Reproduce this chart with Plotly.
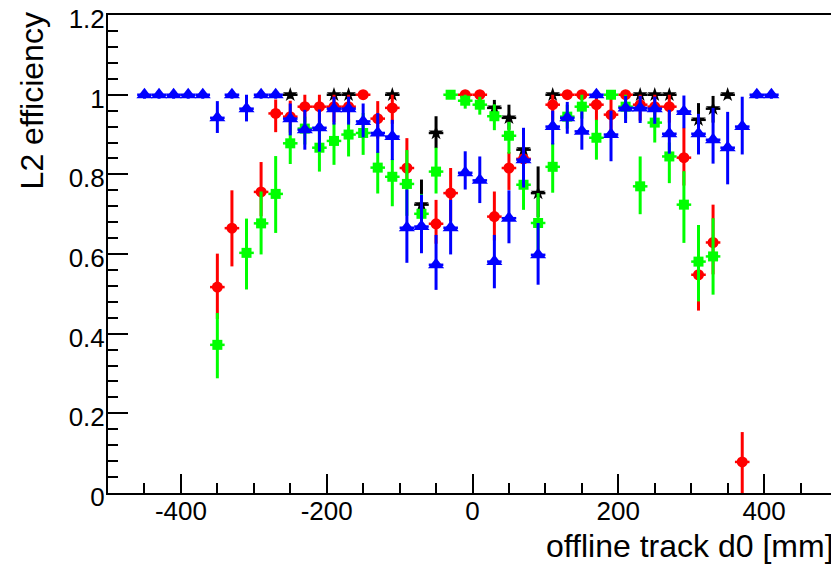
import plotly.graph_objects as go

# ---------------- data ----------------
x_blue = [-450, -430, -410, -390, -370, -350, -330, -310, -290, -270, -250, -230, -210, -190, -170,
          -150, -130, -110, -90, -70, -50, -30, -10, 10, 30, 50, 70, 90, 110, 130, 150, 170, 190,
          210, 230, 250, 270, 290, 310, 330, 350, 370, 390, 410]
y_blue = [1, 1, 1, 1, 1, 0.942, 1, 0.965, 1, 1, 0.94, 0.912, 0.917, 0.965, 0.965,
          0.933, 0.904, 0.895, 0.666, 0.669, 0.573, 0.666, 0.804, 0.785, 0.581, 0.69, 0.837, 0.598, 0.92, 0.942, 0.908, 1.0, 0.9,
          0.967, 0.967, 0.965, 0.902, 0.958, 0.902, 0.887, 0.867, 0.92, 1, 1]
up_blue = [0, 0, 0, 0, 0, 0.042, 0, 0.035, 0, 0, 0.038, 0.05, 0.046, 0.03, 0.03,
           0.045, 0.05, 0.042, 0.096, 0.08, 0.075, 0.07, 0.054, 0.06, 0.067, 0.07, 0.08, 0.08, 0.04, 0.04, 0.05, 0, 0.06,
           0.03, 0.03, 0.03, 0.06, 0.04, 0.05, 0.08, 0.09, 0.075, 0, 0]
dn_blue = [0.01, 0.01, 0.01, 0.01, 0.01, 0.038, 0.01, 0.032, 0.01, 0.01, 0.042, 0.05, 0.06, 0.04, 0.04,
           0.04, 0.05, 0.059, 0.088, 0.067, 0.063, 0.067, 0.042, 0.057, 0.067, 0.063, 0.07, 0.075, 0.045, 0.04, 0.046, 0.01, 0.067,
           0.038, 0.038, 0.038, 0.05, 0.042, 0.052, 0.06, 0.092, 0.07, 0.01, 0.01]

x_red = [-350, -330, -290, -270, -250, -230, -210, -190, -170, -150, -130, -110, -90, -50, -30, -10, 10,
         30, 50, 70, 110, 130, 150, 170, 190, 210, 230, 250, 270, 290, 310, 330, 370]
y_red = [0.517, 0.665, 0.756, 0.953, 0.945, 0.97, 0.97, 0.97, 0.97, 1.0, 0.94, 0.967, 0.816, 0.676, 0.753, 1.0, 1.0,
         0.694, 0.816, 0.839, 0.975, 1.0, 1.0, 0.975, 0.95, 1.0, 0.975, 0.97, 0.97, 0.842, 0.548, 0.629, 0.078]
up_red = [0.084, 0.095, 0.075, 0.035, 0.04, 0.03, 0.03, 0.03, 0.03, 0, 0.044, 0.033, 0.075, 0.06, 0.063, 0, 0,
          0.063, 0.04, 0.06, 0.025, 0, 0, 0.025, 0.05, 0, 0.025, 0.03, 0.03, 0.075, 0.08, 0.095, 0.075]
dn_red = [0.08, 0.096, 0.061, 0.047, 0.04, 0.04, 0.04, 0.04, 0.04, 0.01, 0.05, 0.04, 0.05, 0.05, 0.07, 0.01, 0.01,
          0.06, 0.055, 0.05, 0.04, 0.01, 0.01, 0.04, 0.04, 0.01, 0.04, 0.04, 0.04, 0.07, 0.09, 0.08, 0.078]

x_green = [-350, -310, -290, -270, -250, -230, -210, -190, -170, -150, -130, -110, -90, -70, -50, -30, -10,
           10, 30, 50, 70, 90, 110, 130, 150, 170, 190, 210, 230, 250, 270, 290, 310, 330]
y_green = [0.372, 0.603, 0.677, 0.751, 0.878, 0.915, 0.867, 0.884, 0.9, 0.904, 0.817, 0.794, 0.776, 0.701, 0.807, 1.0, 0.985,
           0.975, 0.946, 0.897, 0.774, 0.678, 0.819, 0.945, 0.97, 0.892, 1.0, 0.97, 0.77, 0.93, 0.845, 0.724, 0.581, 0.594]
up_green = [0.08, 0.086, 0.08, 0.095, 0.05, 0.03, 0.05, 0.045, 0.04, 0.05, 0.04, 0.045, 0.085, 0.05, 0.06, 0, 0.015,
            0.02, 0.03, 0.035, 0.075, 0.075, 0.06, 0.03, 0.03, 0.045, 0, 0.03, 0.075, 0.035, 0.035, 0.084, 0.092, 0.096]
dn_green = [0.084, 0.092, 0.078, 0.098, 0.052, 0.04, 0.06, 0.06, 0.055, 0.055, 0.065, 0.074, 0.08, 0.05, 0.055, 0.01, 0.02,
            0.025, 0.035, 0.045, 0.063, 0.067, 0.065, 0.03, 0.03, 0.055, 0.01, 0.03, 0.07, 0.05, 0.067, 0.096, 0.1, 0.096]

x_black = [-250, -190, -170, -110, -70, -50, 30, 50, 70, 90, 110, 230, 250, 270, 310, 330, 350]
y_black = [1, 1, 1, 1, 0.724, 0.904, 0.967, 0.942, 0.862, 0.753, 1, 1, 1, 1, 0.937, 0.965, 1]
up_black = [0, 0, 0, 0, 0.063, 0.042, 0.02, 0.033, 0.054, 0.067, 0, 0, 0, 0, 0.042, 0.032, 0]
dn_black = [0.01, 0.01, 0.01, 0.01, 0.05, 0.038, 0.03, 0.03, 0.04, 0.06, 0.01, 0.01, 0.01, 0.01, 0.04, 0.035, 0.01]

bin_half_width = 10
x_tickvals = [-400, -200, 0, 200, 400]
x_ticktext = ["-400", "-200", "0", "200", "400"]
y_tickvals = [0, 0.2, 0.4, 0.6, 0.8, 1.0, 1.2]
y_ticktext = ["0", "0.2", "0.4", "0.6", "0.8", "1", "1.2"]

# ---------------- figure ----------------
fig = go.Figure()


def add_series(xs, ys, up, dn, color, symbol, size):
    fig.add_trace(go.Scatter(
        x=xs, y=ys, mode="markers",
        marker=dict(color=color, symbol=symbol, size=size, line=dict(width=0)),
        error_y=dict(type="data", symmetric=False, array=up, arrayminus=dn,
                     color=color, thickness=3, width=0),
        error_x=dict(type="data", array=[bin_half_width] * len(xs),
                     color=color, thickness=2.5, width=0),
        showlegend=False, hoverinfo="x+y",
    ))


add_series(x_black, y_black, up_black, dn_black, "black", "star", 11)
add_series(x_red, y_red, up_red, dn_red, "#ff0000", "circle", 11)
add_series(x_green, y_green, up_green, dn_green, "#00ff00", "square", 10)
add_series(x_blue, y_blue, up_blue, dn_blue, "#0000ff", "triangle-up", 14)

font_family = "Liberation Sans, Arial, sans-serif"

# page body has an 8px default margin, so the figure is sized 8px smaller
fig.update_layout(
    width=831, height=565,
    margin=dict(l=100, r=2, t=7, b=80),
    plot_bgcolor="white", paper_bgcolor="white",
    font=dict(family=font_family, size=26, color="black"),
    showlegend=False,
    xaxis=dict(
        range=[-500, 500], tickmode="array", tickvals=x_tickvals, ticktext=x_ticktext,
        ticks="inside", ticklen=19, tickwidth=1.5, tickcolor="black",
        showline=True, linewidth=2, linecolor="black", mirror=True,
        showgrid=False, zeroline=False, automargin=False,
        minor=dict(ticks="inside", ticklen=10, tickwidth=1.5, tickcolor="black",
                   dtick=50, tick0=0, showgrid=False),
        tickfont=dict(size=26), ticklabelstandoff=-6, ticklabeloverflow="allow",
    ),
    yaxis=dict(
        range=[0, 1.2002], tickmode="array", tickvals=y_tickvals, ticktext=y_ticktext,
        ticks="inside", ticklen=20, tickwidth=1.5, tickcolor="black",
        showline=True, linewidth=2, linecolor="black", mirror=True,
        showgrid=False, zeroline=False, automargin=False,
        minor=dict(ticks="inside", ticklen=10, tickwidth=1.5, tickcolor="black",
                   dtick=0.04, tick0=0, showgrid=False),
        tickfont=dict(size=26), ticklabeloverflow="allow",
        ticklabelshift=4, ticklabelstandoff=-4,
    ),
    annotations=[
        dict(text="L2 efficiency", textangle=-90, xref="paper", yref="paper",
             x=-0.103, y=1.0105, xanchor="center", yanchor="top", showarrow=False,
             font=dict(size=32, family=font_family, color="black")),
        dict(text="offline track d0 [mm]", xref="paper", yref="paper",
             x=0.9986, y=-0.111, xanchor="right", yanchor="middle", showarrow=False,
             font=dict(size=32, family=font_family, color="black")),
    ],
)

fig.write_html("out.html")
